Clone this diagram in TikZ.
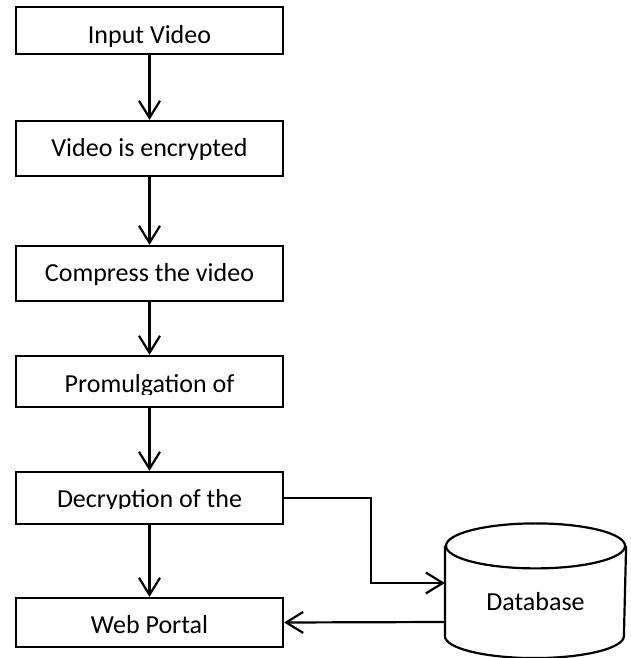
\documentclass[tikz,border=0pt]{standalone}
\usepackage{fontspec}
\setmainfont{Carlito}
\usepackage{tikz}
\usetikzlibrary{arrows.meta,positioning,calc}

\begin{document}
\begin{tikzpicture}[x=1pt,y=1pt,line width=2.2pt,
    box/.style={draw,minimum width=267pt,inner sep=0pt},
    lbl/.style={anchor=base,inner sep=0pt,font=\fontsize{26}{30}\selectfont},
    arr/.style={-{Straight Barb[length=17pt,width=21pt]}}]
    \useasboundingbox (0,0) rectangle (630,658);

    % Process boxes
    \node[box,minimum height=47pt] (input) at (149.5,627.5) {};
    \node[box,minimum height=55pt] (encrypt) at (149.5,509.5) {};
    \node[box,minimum height=55pt] (compress) at (149.5,384.5) {};
    \node[box,minimum height=51pt] (promul) at (149.5,276.5) {};
    \node[box,minimum height=52pt] (decrypt) at (149.5,160) {};
    \node[box,minimum height=49pt] (portal) at (149.5,35.5) {};

    % Box texts (bottoms cut off as in a text box)
    \begin{scope}
        \clip (16,611.5) rectangle (283,651);
        \node[lbl] (inputtxt) at (149.5,614) {Input Video};
    \end{scope}
    \begin{scope}
        \clip (16,498.5) rectangle (283,537);
        \node[lbl] (encrypttxt) at (149.5,501) {Video is encrypted};
    \end{scope}
    \node[lbl] (compresstxt) at (149.5,376) {Compress the video};
    \begin{scope}
        \clip (16,263) rectangle (283,302);
        \node[lbl] (promultxt) at (149.5,265.5) {Promulgation of};
    \end{scope}
    \begin{scope}
        \clip (16,149) rectangle (283,186);
        \node[lbl] (decrypttxt) at (149.5,150.5) {Decryption of the};
    \end{scope}
    \node[lbl] (portaltxt) at (149.5,24) {Web Portal};

    % Database cylinder
    \node[minimum width=179pt,minimum height=88pt,inner sep=0pt] (db) at (535.5,67) {};
    \draw (db.north west) -- (db.south west)
        arc[start angle=180,end angle=360,x radius=89.5pt,y radius=22pt]
        -- (db.north east);
    \draw (db.north) ellipse [x radius=89.5pt,y radius=22.5pt];
    \node[lbl] (dbtxt) at (535.5,47) {Database};

    % Flow
    \draw[arr] (input) -- (encrypt);
    \draw[arr] (encrypt) -- (compress);
    \draw[arr] (compress) -- (promul);
    \draw[arr] (promul) -- (decrypt);
    \draw[arr] (decrypt) -- (portal);
    \draw[arr] (decrypt.east) -- ++(87,0) |- ([yshift=8pt]db.west);
    \draw[arr] ([yshift=-31pt]db.west) -- (portal.east);
\end{tikzpicture}
\end{document}
